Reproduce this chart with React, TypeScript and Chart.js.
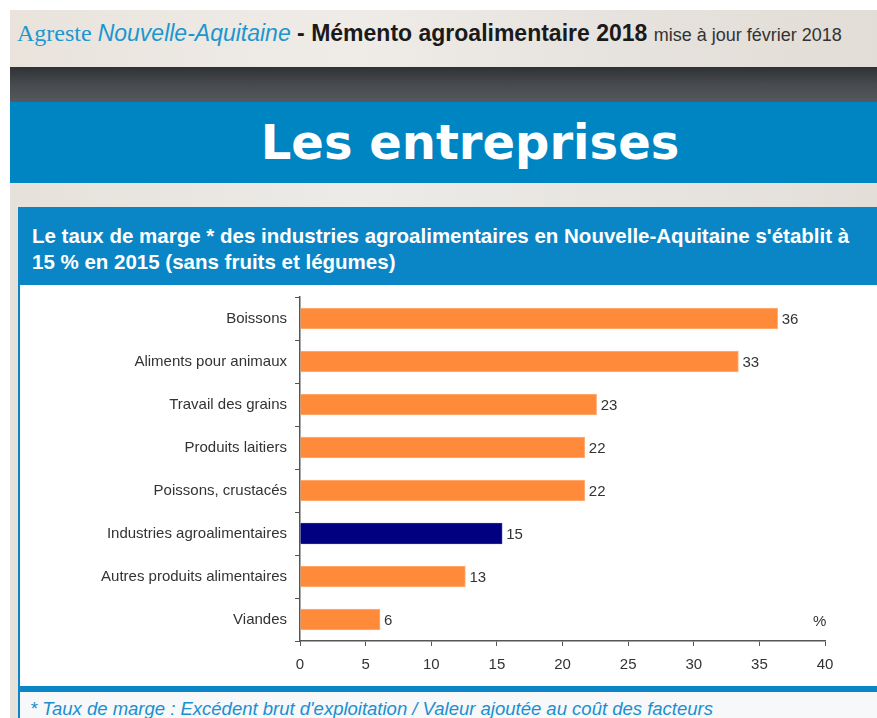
import React, { useEffect, useRef } from "react";
import { Chart, registerables } from "chart.js";

Chart.register(...registerables);

const categories = [
  "Boissons",
  "Aliments pour animaux",
  "Travail des grains",
  "Produits laitiers",
  "Poissons, crustacés",
  "Industries agroalimentaires",
  "Autres produits alimentaires",
  "Viandes",
];
const values = [36.4, 33.4, 22.6, 21.7, 21.7, 15.4, 12.6, 6.1];
const barColors = ["#FF8A3A", "#FF8A3A", "#FF8A3A", "#FF8A3A", "#FF8A3A", "#000080", "#FF8A3A", "#FF8A3A"];
const borderColors = ["#FFB07A", "#FFB07A", "#FFB07A", "#FFB07A", "#FFB07A", "#2A2A9A", "#FFB07A", "#FFB07A"];
const xTicks = [0, 5, 10, 15, 20, 25, 30, 35, 40];

const FONT = "'Liberation Sans', Arial, sans-serif";

const valueLabels = {
  id: "valueLabels",
  afterDatasetsDraw(chart: any) {
    const { ctx } = chart;
    const meta = chart.getDatasetMeta(0);
    ctx.save();
    ctx.font = `15px ${FONT}`;
    ctx.fillStyle = "#333";
    ctx.textAlign = "left";
    ctx.textBaseline = "middle";
    meta.data.forEach((bar: any, i: number) => {
      ctx.fillText(String(Math.round(values[i])), bar.x + 4, bar.y + 1);
    });
    ctx.restore();
  },
};

function BarChart() {
  const ref = useRef<HTMLCanvasElement | null>(null);
  useEffect(() => {
    if (!ref.current) return;
    const chart = new Chart(ref.current, {
      type: "bar",
      data: {
        labels: categories,
        datasets: [
          {
            data: values,
            backgroundColor: barColors,
            borderColor: borderColors,
            borderWidth: 1,
            barThickness: 21,
          },
        ],
      },
      options: {
        indexAxis: "y",
        animation: false,
        responsive: false,
        maintainAspectRatio: false,
        layout: { padding: { top: 12, right: 52, bottom: 0, left: 0 } },
        plugins: { legend: { display: false }, tooltip: { enabled: false } },
        scales: {
          x: {
            type: "linear",
            min: 0,
            max: 40,
            afterBuildTicks: (s: any) => {
              s.ticks = xTicks.map((v) => ({ value: v }));
            },
            afterFit: (s: any) => {
              s.height = 45;
            },
            grid: {
              drawOnChartArea: false,
              drawTicks: true,
              tickLength: 5,
              color: "#555",
            },
            border: { display: true, color: "#555", width: 1.5 },
            ticks: {
              color: "#333",
              font: { family: FONT, size: 15 },
              padding: 10,
            },
          },
          y: {
            type: "category",
            afterFit: (s: any) => {
              s.width = 280;
              s.paddingTop = 0;
              s.paddingBottom = 0;
            },
            grid: {
              drawOnChartArea: false,
              drawTicks: true,
              tickLength: 5,
              offset: true,
              color: "#555",
            },
            border: { display: true, color: "#555", width: 1.5 },
            ticks: {
              color: "#333",
              font: { family: FONT, size: 15 },
              padding: 8,
            },
          },
        },
      },
      plugins: [valueLabels],
    } as any);
    return () => chart.destroy();
  }, []);
  return <canvas ref={ref} width={857} height={401} style={{ display: "block", width: 857, height: 401 }} />;
}

export default function App() {
  return (
    <div
      style={{
        position: "absolute",
        left: 0,
        top: 0,
        width: 877,
        height: 718,
        overflow: "hidden",
        background: "#fff",
        fontFamily: FONT,
      }}
    >
      {/* top header band */}
      <div
        style={{
          position: "absolute",
          left: 10,
          top: 10,
          width: 867,
          height: 57,
          background: "linear-gradient(90deg, #e9e3dc 0%, #efece8 40%, #e6e2dd 70%, #e2ddd6 100%)",
        }}
      />
      <div
        style={{
          position: "absolute",
          left: 17,
          top: 18,
          whiteSpace: "nowrap",
          fontSize: 23,
          lineHeight: "30px",
        }}
      >
        <span style={{ fontFamily: "'Liberation Serif', serif", color: "#1C96D0", fontSize: 24 }}>Agreste </span>
        <span style={{ fontStyle: "italic", color: "#1C96D0" }}>Nouvelle-Aquitaine</span>
        <span style={{ fontWeight: "bold", color: "#1a1a1a" }}> - Mémento agroalimentaire 2018 </span>
        <span style={{ fontSize: 18, color: "#333" }}> mise à jour février 2018</span>
      </div>
      {/* dark band */}
      <div
        style={{
          position: "absolute",
          left: 10,
          top: 67,
          width: 867,
          height: 35,
          background: "linear-gradient(180deg, #2f3235 0%, #474a4e 50%, #55585c 100%)",
        }}
      />
      {/* blue title band */}
      <div
        style={{
          position: "absolute",
          left: 10,
          top: 102,
          width: 867,
          height: 81,
          background: "#0085C3",
        }}
      />
      <div
        style={{
          position: "absolute",
          left: 10,
          top: 102,
          width: 920,
          height: 81,
          textAlign: "center",
          color: "#fff",
          fontWeight: "bold",
          fontSize: 48,
          lineHeight: "81px",
          fontFamily: "'DejaVu Sans', Verdana, sans-serif",
        }}
      >
        Les entreprises
      </div>
      {/* beige below */}
      <div
        style={{
          position: "absolute",
          left: 10,
          top: 183,
          width: 867,
          height: 535,
          background: "linear-gradient(90deg, #e6e1da 0%, #ecebe8 40%, #e3ded8 100%)",
        }}
      />
      {/* panel */}
      <div
        style={{
          position: "absolute",
          left: 18,
          top: 207,
          width: 870,
          height: 520,
          background: "#0A86C6",
        }}
      />
      <div
        style={{
          position: "absolute",
          left: 32,
          top: 223,
          width: 850,
          whiteSpace: "nowrap",
          color: "#fff",
          fontWeight: "bold",
          fontSize: 20.5,
          lineHeight: "26px",
        }}
      >
        Le taux de marge * des industries agroalimentaires en Nouvelle-Aquitaine s'établit à
        <br />
        15 % en 2015 (sans fruits et légumes)
      </div>
      <div
        style={{
          position: "absolute",
          left: 20,
          top: 285,
          width: 857,
          height: 401,
          background: "#fff",
        }}
      >
        <BarChart />
        <div
          style={{
            position: "absolute",
            left: 793,
            top: 327,
            fontSize: 15,
            color: "#333",
          }}
        >
          %
        </div>
      </div>
      {/* footer */}
      <div
        style={{
          position: "absolute",
          left: 20,
          top: 692,
          width: 857,
          height: 30,
          background: "#f6f8fa",
        }}
      />
      <div
        style={{
          position: "absolute",
          left: 30,
          top: 698,
          whiteSpace: "nowrap",
          fontStyle: "italic",
          fontSize: 18.5,
          color: "#1A8FD0",
        }}
      >
        * Taux de marge : Excédent brut d'exploitation / Valeur ajoutée au coût des facteurs
      </div>
    </div>
  );
}
